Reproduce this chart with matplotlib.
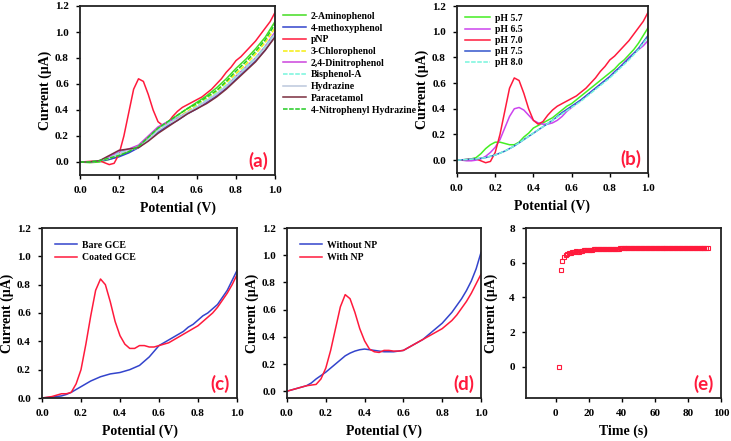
import matplotlib
matplotlib.use("Agg")
import matplotlib.pyplot as plt
import numpy as np

plt.rcParams['font.family'] = ['Liberation Serif', 'DejaVu Serif']
plt.rcParams['font.weight'] = 'bold'
plt.rcParams['axes.labelweight'] = 'bold'

# potential grids (V)
v_fine = np.linspace(0, 1, 41)
v_coarse = np.linspace(0, 1, 21)

# ---- panel (a): interferents ----
pnp = [0.0, 0.002, 0.005, 0.008, 0.01, -0.005, -0.02, -0.01, 0.06, 0.2, 0.38,
       0.56, 0.64, 0.62, 0.52, 0.4, 0.31, 0.28, 0.3, 0.35, 0.39, 0.42, 0.44,
       0.46, 0.48, 0.5, 0.53, 0.56, 0.6, 0.64, 0.69, 0.73, 0.78, 0.81, 0.85,
       0.89, 0.93, 0.98, 1.03, 1.08, 1.15]
aminophenol = [0.0, -0.005, 0.0, 0.02, 0.045, 0.08, 0.12, 0.19, 0.26, 0.31, 0.36,
               0.41, 0.46, 0.51, 0.57, 0.64, 0.72, 0.79, 0.87, 0.96, 1.08]
methoxyphenol = [0.0, 0.0, 0.01, 0.02, 0.04, 0.07, 0.11, 0.17, 0.23, 0.28, 0.32,
                 0.37, 0.41, 0.46, 0.51, 0.57, 0.64, 0.71, 0.78, 0.86, 0.97]
chlorophenol = [0.0, 0.0, 0.01, 0.03, 0.06, 0.09, 0.12, 0.19, 0.25, 0.3, 0.34,
                0.39, 0.44, 0.49, 0.54, 0.61, 0.68, 0.75, 0.83, 0.92, 1.03]
dinitrophenol = [0.0, 0.0, 0.01, 0.04, 0.08, 0.1, 0.13, 0.2, 0.27, 0.31, 0.34,
                 0.38, 0.42, 0.47, 0.52, 0.58, 0.66, 0.73, 0.8, 0.89, 1.0]
bisphenol = [0.0, 0.0, 0.01, 0.03, 0.07, 0.09, 0.12, 0.18, 0.25, 0.3, 0.34,
             0.38, 0.43, 0.48, 0.53, 0.59, 0.66, 0.73, 0.8, 0.89, 0.99]
hydrazine = [0.0, 0.0, 0.01, 0.03, 0.06, 0.09, 0.11, 0.17, 0.24, 0.29, 0.33,
             0.38, 0.42, 0.47, 0.52, 0.58, 0.65, 0.72, 0.79, 0.88, 0.98]
paracetamol = [0.0, 0.0, 0.01, 0.05, 0.09, 0.1, 0.11, 0.16, 0.22, 0.27, 0.32,
               0.37, 0.41, 0.45, 0.5, 0.56, 0.63, 0.7, 0.77, 0.86, 0.96]
nitrophenylhydrazine = [0.0, 0.0, 0.01, 0.03, 0.05, 0.08, 0.12, 0.19, 0.26, 0.31, 0.36,
                        0.41, 0.45, 0.5, 0.55, 0.62, 0.7, 0.77, 0.85, 0.94, 1.06]

# ---- panel (b): pH ----
ph57 = [0.0, 0.0, 0.005, 0.01, 0.02, 0.05, 0.09, 0.12, 0.14, 0.14, 0.13,
        0.12, 0.12, 0.14, 0.18, 0.21, 0.25, 0.27, 0.29, 0.31, 0.33, 0.36, 0.39,
        0.42, 0.44, 0.47, 0.5, 0.53, 0.56, 0.59, 0.62, 0.65, 0.68, 0.71, 0.75,
        0.78, 0.82, 0.86, 0.91, 0.97, 1.03]
ph65 = [0.0, 0.0, -0.005, -0.005, 0.0, 0.01, 0.03, 0.06, 0.1, 0.16, 0.25,
        0.34, 0.4, 0.41, 0.39, 0.35, 0.31, 0.29, 0.28, 0.28, 0.29, 0.31, 0.34,
        0.38, 0.41, 0.44, 0.47, 0.5, 0.53, 0.56, 0.59, 0.62, 0.65, 0.69, 0.72,
        0.76, 0.8, 0.83, 0.86, 0.89, 0.93]
ph70 = pnp
ph75 = [0.0, 0.005, 0.01, 0.02, 0.04, 0.07, 0.11, 0.16, 0.21, 0.26, 0.31,
        0.37, 0.42, 0.47, 0.53, 0.59, 0.65, 0.72, 0.79, 0.87, 0.97]
ph80 = [0.0, 0.005, 0.01, 0.02, 0.04, 0.07, 0.11, 0.16, 0.21, 0.26, 0.31,
        0.36, 0.41, 0.46, 0.52, 0.58, 0.64, 0.71, 0.78, 0.86, 0.96]

# ---- panel (c): electrodes ----
bare_gce = [0.0, 0.003, 0.006, 0.01, 0.015, 0.025, 0.04, 0.06, 0.08, 0.1, 0.12,
            0.135, 0.15, 0.16, 0.17, 0.175, 0.18, 0.19, 0.2, 0.215, 0.23, 0.26,
            0.29, 0.33, 0.37, 0.39, 0.41, 0.43, 0.45, 0.47, 0.5, 0.52, 0.55,
            0.58, 0.6, 0.63, 0.66, 0.71, 0.76, 0.83, 0.9]
coated_gce = [0.0, 0.005, 0.01, 0.02, 0.03, 0.03, 0.04, 0.1, 0.2, 0.38, 0.58,
              0.76, 0.84, 0.8, 0.68, 0.54, 0.44, 0.38, 0.35, 0.35, 0.37, 0.37,
              0.36, 0.36, 0.37, 0.38, 0.39, 0.41, 0.43, 0.45, 0.47, 0.49, 0.51,
              0.54, 0.57, 0.6, 0.64, 0.69, 0.74, 0.8, 0.87]

# ---- panel (d): with / without NP ----
without_np = [0.0, 0.01, 0.02, 0.03, 0.04, 0.06, 0.09, 0.115, 0.14, 0.17, 0.2,
              0.23, 0.26, 0.28, 0.295, 0.305, 0.31, 0.305, 0.3, 0.295, 0.29,
              0.29, 0.29, 0.295, 0.3, 0.32, 0.34, 0.36, 0.38, 0.41, 0.44, 0.47,
              0.5, 0.54, 0.58, 0.63, 0.68, 0.74, 0.81, 0.9, 1.02]
with_np = [0.0, 0.01, 0.02, 0.03, 0.04, 0.045, 0.05, 0.09, 0.17, 0.3, 0.46,
           0.62, 0.71, 0.68, 0.58, 0.46, 0.37, 0.31, 0.29, 0.285, 0.3, 0.3,
           0.295, 0.295, 0.3, 0.32, 0.34, 0.36, 0.38, 0.4, 0.42, 0.44, 0.46,
           0.49, 0.52, 0.56, 0.61, 0.66, 0.72, 0.79, 0.86]

# ---- panel (e): amperometric response ----
time_s = np.arange(2, 93, 1)
current_e = [0.0, 5.6, 6.1, 6.3, 6.42, 6.5, 6.55, 6.58, 6.6, 6.63,
             6.65, 6.63, 6.64, 6.67, 6.7, 6.72, 6.73, 6.74, 6.75, 6.76,
             6.76, 6.77, 6.77, 6.78, 6.78, 6.79, 6.79, 6.8, 6.8, 6.8,
             6.8, 6.8, 6.81, 6.81, 6.81, 6.81, 6.81, 6.82, 6.82, 6.82,
             6.82, 6.82, 6.82, 6.82, 6.83, 6.83, 6.83, 6.83, 6.83, 6.84,
             6.84, 6.84, 6.84, 6.84, 6.84, 6.84, 6.84, 6.84, 6.85, 6.85,
             6.85, 6.85, 6.85, 6.85, 6.86, 6.85, 6.85, 6.85, 6.85, 6.86,
             6.86, 6.85, 6.85, 6.85, 6.85, 6.85, 6.85, 6.85, 6.85, 6.85,
             6.85, 6.85, 6.85, 6.85, 6.85, 6.85, 6.85, 6.85, 6.85, 6.85, 6.85]

RED = '#ff1a3c'
W, H = 731, 441


def make_axes(fig, left, top, right, bottom):
    ax = fig.add_axes([left / W, 1 - bottom / H, (right - left) / W, (bottom - top) / H])
    ax._px = (right - left, bottom - top)
    return ax


def style(ax, letter, xlabel='Potential (V)'):
    w, h = ax._px
    for s in ax.spines.values():
        s.set_linewidth(1.3)
        s.set_color('#222222')
    ax.tick_params(direction='out', length=3, width=1, labelsize=8, pad=5)
    ax.tick_params(axis='x', pad=5)
    for lab in ax.get_xticklabels() + ax.get_yticklabels():
        lab.set_fontweight('bold')
    ax.set_xlabel(xlabel, fontsize=10)
    ax.set_ylabel('Current (\u03bcA)', fontsize=10)
    ax.xaxis.set_label_coords(0.5, -27 / h)
    ax.yaxis.set_label_coords(-28 / w, 0.5)
    ax.text(1 - 7 / w, 5 / h, letter, transform=ax.transAxes, ha='right', va='bottom',
            color=RED, fontsize=13.5, fontweight='bold', family=['Lato', 'DejaVu Sans'])


fig = plt.figure(figsize=(7.31, 4.41), dpi=100)

# (a)
ax = make_axes(fig, 80, 6, 275, 175)
ax.plot(v_coarse, aminophenol, color='#44dd22', lw=1.1, label='2-Aminophenol')
ax.plot(v_coarse, methoxyphenol, color='#3344cc', lw=1.1, label='4-methoxyphenol')
ax.plot(v_fine, pnp, color=RED, lw=1.1, label='pNP')
ax.plot(v_coarse, chlorophenol, color='#f5ee10', lw=1.1, ls=(0, (3, 1)), label='3-Chlorophenol')
ax.plot(v_coarse, dinitrophenol, color='#cc44dd', lw=1.1, label='2,4-Dinitrophenol')
ax.plot(v_coarse, bisphenol, color='#77f5dd', lw=1.1, ls=(0, (3, 1)), label='Bisphenol-A')
ax.plot(v_coarse, hydrazine, color='#bcc8dd', lw=1.1, label='Hydrazine')
ax.plot(v_coarse, paracetamol, color='#7a2e3e', lw=1.1, label='Paracetamol')
ax.plot(v_coarse, nitrophenylhydrazine, color='#22cc22', lw=1.1, ls=(0, (3, 1)),
        label='4-Nitrophenyl Hydrazine')
ax.set_xlim(0, 1)
ax.set_ylim(-0.1, 1.2)
ax.set_xticks(np.arange(0, 1.01, 0.2))
ax.set_yticks(np.arange(0, 1.21, 0.2))
ax.xaxis.set_major_formatter('{x:.1f}')
ax.yaxis.set_major_formatter('{x:.1f}')
style(ax, '(a)')
ax.legend(loc='upper left', bbox_to_anchor=(1.01, 1.0), frameon=False,
          handlelength=2.4, labelspacing=0.28, borderaxespad=0.2, handletextpad=0.5,
          prop={'weight': 'bold', 'size': 7})

# (b)
ax = make_axes(fig, 457, 6, 648, 173)
ax.plot(v_fine, ph57, color='#44ee22', lw=1.1, label='pH 5.7')
ax.plot(v_fine, ph65, color='#cc44ee', lw=1.1, label='pH 6.5')
ax.plot(v_fine, ph70, color=RED, lw=1.1, label='pH 7.0')
ax.plot(v_coarse, ph75, color='#3355cc', lw=1.1, label='pH 7.5')
ax.plot(v_coarse, ph80, color='#77f5dd', lw=1.1, ls=(0, (3, 1)), label='pH 8.0')
ax.set_xlim(0, 1)
ax.set_ylim(-0.1, 1.2)
ax.set_xticks(np.arange(0, 1.01, 0.2))
ax.set_yticks(np.arange(0, 1.21, 0.2))
ax.xaxis.set_major_formatter('{x:.1f}')
ax.yaxis.set_major_formatter('{x:.1f}')
style(ax, '(b)')
ax.legend(loc='upper left', frameon=False, handlelength=2.6, labelspacing=0.22,
          borderaxespad=0.4, handletextpad=0.5, prop={'weight': 'bold', 'size': 7})

# (c)
ax = make_axes(fig, 42, 228, 237, 398)
ax.plot(v_fine, bare_gce, color='#3344cc', lw=1.1, label='Bare GCE')
ax.plot(v_fine, coated_gce, color=RED, lw=1.1, label='Coated GCE')
ax.set_xlim(0, 1)
ax.set_ylim(0, 1.2)
ax.set_xticks(np.arange(0, 1.01, 0.2))
ax.set_yticks(np.arange(0, 1.21, 0.2))
ax.xaxis.set_major_formatter('{x:.1f}')
ax.yaxis.set_major_formatter('{x:.1f}')
style(ax, '(c)')
ax.legend(loc='upper left', frameon=False, handlelength=2.3, labelspacing=0.35,
          borderaxespad=0.9, handletextpad=0.5, prop={'weight': 'bold', 'size': 7})

# (d)
ax = make_axes(fig, 287, 228, 481, 398)
ax.plot(v_fine, without_np, color='#3344cc', lw=1.1, label='Without NP')
ax.plot(v_fine, with_np, color=RED, lw=1.1, label='With NP')
ax.set_xlim(0, 1)
ax.set_ylim(-0.05, 1.2)
ax.set_xticks(np.arange(0, 1.01, 0.2))
ax.set_yticks(np.arange(0, 1.21, 0.2))
ax.xaxis.set_major_formatter('{x:.1f}')
ax.yaxis.set_major_formatter('{x:.1f}')
style(ax, '(d)')
ax.legend(loc='upper left', frameon=False, handlelength=2.3, labelspacing=0.35,
          borderaxespad=0.9, handletextpad=0.5, prop={'weight': 'bold', 'size': 7})

# (e)
ax = make_axes(fig, 526, 228, 721, 398)
ax.plot(time_s, current_e, ls='none', marker='s', ms=3.2, mfc='none', mec=RED, mew=0.8)
ax.set_xlim(-18, 100)
ax.set_ylim(-1.8, 8)
ax.set_xticks(np.arange(0, 101, 20))
ax.set_yticks(np.arange(0, 9, 2))
style(ax, '(e)', xlabel='Time (s)')

fig.savefig('out.png', dpi=100)
